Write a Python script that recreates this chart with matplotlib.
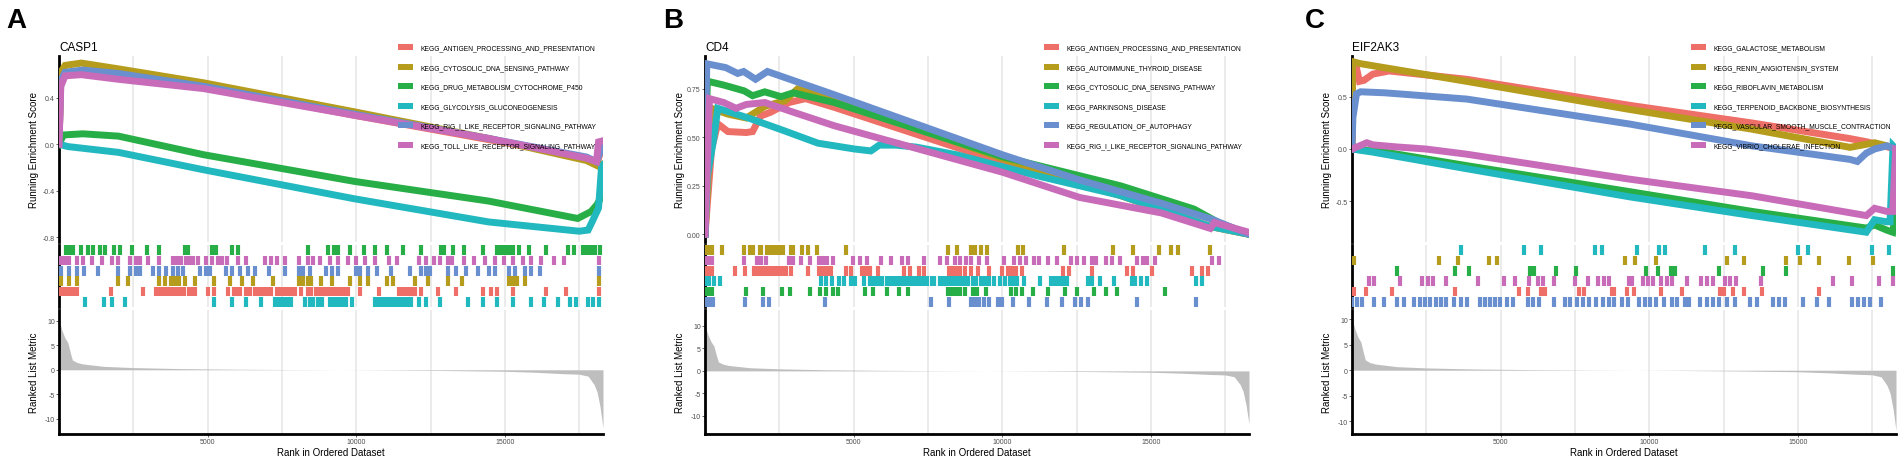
import matplotlib
matplotlib.use("Agg")
import matplotlib.pyplot as plt
from matplotlib.patches import Patch

plt.rcParams["font.family"] = ["Liberation Sans", "DejaVu Sans"]
plt.rcParams["axes.unicode_minus"] = False

# ----------------------------------------------------------------------
# DATA
# ----------------------------------------------------------------------
N_GENES = 18300
set_colors = ["#EE6F67", "#B59C1C", "#27AE47", "#22B8BF", "#6A8FCF", "#C86CBA"]

# ranked list metric (same shape in all three panels)
metric_rank = [0, 100, 200, 300, 380, 450, 600, 800, 1500, 2500, 4000, 6000, 8000,
               9500, 11000, 13000, 15000, 16000, 17000, 17500, 17800, 18000,
               18100, 18200, 18300]
metric_value = [10.2, 8.0, 6.5, 5.5, 3.5, 2.0, 1.5, 1.2, 0.7, 0.45, 0.25, 0.12, 0.04,
                0.0, -0.05, -0.15, -0.3, -0.5, -0.8, -0.9, -1.3, -3.0,
                -4.5, -7.5, -11.8]

# ---- panel A : CASP1 ----
a_gene = "CASP1"
a_sets = ["KEGG_ANTIGEN_PROCESSING_AND_PRESENTATION",
          "KEGG_CYTOSOLIC_DNA_SENSING_PATHWAY",
          "KEGG_DRUG_METABOLISM_CYTOCHROME_P450",
          "KEGG_GLYCOLYSIS_GLUCONEOGENESIS",
          "KEGG_RIG_I_LIKE_RECEPTOR_SIGNALING_PATHWAY",
          "KEGG_TOLL_LIKE_RECEPTOR_SIGNALING_PATHWAY"]
a_es_rank = [
    [0, 60, 300, 1500, 4860, 9930, 14450, 17000, 18100, 18300],
    [0, 60, 205, 750, 2000, 4860, 9930, 14450, 17740, 18150, 18300],
    [0, 150, 800, 2000, 4860, 9930, 14450, 17450, 17900, 18100, 18250, 18300],
    [0, 300, 2000, 4860, 9930, 14450, 17500, 17800, 17950, 18150, 18250, 18300],
    [0, 60, 200, 800, 2000, 4860, 9930, 14450, 17740, 18080, 18300],
    [0, 60, 205, 750, 2000, 4860, 9930, 14450, 17740, 18080, 18150, 18300],
]
a_es_score = [
    [0.0, 0.55, 0.62, 0.60, 0.50, 0.25, 0.04, -0.08, -0.16, 0.0],
    [0.0, 0.62, 0.68, 0.70, 0.65, 0.53, 0.28, 0.05, -0.14, -0.19, -0.17],
    [0.0, 0.08, 0.09, 0.07, -0.09, -0.32, -0.49, -0.64, -0.58, -0.52, -0.45, -0.24],
    [0.0, -0.02, -0.07, -0.22, -0.47, -0.67, -0.75, -0.74, -0.66, -0.55, -0.20, -0.18],
    [0.0, 0.55, 0.62, 0.64, 0.61, 0.50, 0.26, 0.05, -0.11, -0.15, 0.0],
    [0.0, 0.50, 0.59, 0.60, 0.56, 0.48, 0.25, 0.05, -0.12, -0.15, 0.02, 0.03],
]
a_hits = [
    [70, 210, 340, 480, 620, 1750, 2810, 3260, 3400, 3540, 3670, 3810, 3950, 4080,
     4220, 4380, 4450, 4590, 5000, 5210, 5690, 5890, 5960, 6100, 6300, 6440, 6580,
     6720, 6850, 6990, 7130, 7330, 7400, 7540, 7670, 7810, 7950, 8150, 8360, 8490,
     8630, 8770, 8900, 9040, 9180, 9310, 9450, 9590, 9730, 10140, 10750, 11440,
     11580, 11710, 11850, 11990, 12170, 12740, 13360, 14250, 14520, 14730, 15280,
     16370, 17060, 18150],
    [70, 340, 620, 1990, 2330, 3360, 3560, 3770, 3910, 4050, 4250, 4560, 5210, 5750,
     6170, 6510, 7190, 8080, 8220, 8360, 8490, 8800, 9180, 9800, 10140, 10410,
     11030, 11230, 11990, 12400, 13080, 13560, 15140, 15270, 15410, 15690, 18150],
    [230, 370, 480, 750, 960, 1140, 1370, 1550, 1850, 2050, 2470, 2950, 3360, 4250,
     4340, 5140, 5270, 5820, 6030, 8380, 9040, 9250, 9380, 9800, 10250, 10640,
     11030, 11580, 12190, 12840, 12950, 13250, 13630, 14250, 14730, 14870, 15000,
     15140, 15280, 15480, 15820, 16370, 17120, 17330, 17630, 17770, 17900, 18040,
     18200],
    [860, 1510, 1780, 2220, 5210, 5820, 6300, 6780, 7260, 7400, 7540, 7670, 7810,
     8290, 8430, 8560, 8700, 8840, 9110, 9250, 9380, 9520, 9660, 9860, 10620, 10750,
     10890, 11030, 11170, 11300, 11440, 11580, 11710, 11850, 12120, 12330, 12810,
     13770, 14250, 14730, 15280, 15890, 16300, 16780, 17190, 17400, 17810, 17950,
     18150],
    [70, 340, 620, 850, 1300, 1990, 2400, 2600, 2740, 3150, 3350, 3600, 3840, 4000,
     4180, 4730, 4930, 5070, 5620, 5820, 6100, 6370, 6580, 7060, 7600, 8080, 8220,
     8430, 8970, 9180, 9380, 10000, 10140, 10410, 10690, 11170, 11820, 12190,
     12330, 12470, 13080, 13360, 13700, 14110, 14450, 14660, 15140, 15340, 15690,
     15890, 16170, 18150],
    [70, 200, 340, 590, 820, 1100, 1440, 1780, 1990, 2400, 2600, 2740, 3010, 3360,
     3840, 3980, 4120, 4260, 4400, 4520, 4690, 4930, 5140, 5340, 5480, 5640, 6030,
     6300, 6920, 7130, 7330, 7600, 8080, 8360, 8560, 8770, 9110, 9380, 9730, 10000,
     10280, 10640, 11100, 11370, 12120, 12330, 12600, 12810, 13080, 13220, 13630,
     13970, 14320, 14660, 14960, 15280, 15620, 15890, 16230, 16650, 16990, 18150],
]
a_hit_rows = [4, 3, 0, 5, 2, 1]
a_ylim = (-0.843, 0.761)
a_yticks = [-0.8, -0.4, 0.0, 0.4]
a_yticklabels = ["-0.8", "-0.4", "0.0", "0.4"]
a_metric_ylim = (-13.1, 12.2)

# ---- panel B : CD4 ----
b_gene = "CD4"
b_sets = ["KEGG_ANTIGEN_PROCESSING_AND_PRESENTATION",
          "KEGG_AUTOIMMUNE_THYROID_DISEASE",
          "KEGG_CYTOSOLIC_DNA_SENSING_PATHWAY",
          "KEGG_PARKINSONS_DISEASE",
          "KEGG_REGULATION_OF_AUTOPHAGY",
          "KEGG_RIG_I_LIKE_RECEPTOR_SIGNALING_PATHWAY"]
b_es_rank = [
    [0, 220, 430, 770, 1390, 1600, 1870, 2210, 2830, 3380, 4350, 10010, 13980, 17000, 18300],
    [0, 220, 770, 1390, 2010, 2700, 3110, 4350, 10010, 13980, 17000, 18300],
    [0, 30, 80, 630, 1320, 1600, 2010, 2560, 2970, 4350, 10010, 13980, 16450, 17280, 18300],
    [0, 80, 290, 430, 1460, 2560, 3800, 5030, 5580, 5860, 6410, 7100, 8470, 11220,
     13980, 17000, 18300],
    [0, 20, 60, 700, 1100, 1300, 1700, 2100, 4350, 10010, 12600, 15350, 17000, 18300],
    [0, 150, 630, 1045, 1390, 2010, 2970, 4350, 10010, 12600, 15350, 17000, 17140, 18300],
]
b_es_score = [
    [0.0, 0.44, 0.57, 0.53, 0.525, 0.53, 0.61, 0.63, 0.68, 0.70, 0.655, 0.37, 0.20, 0.04, 0.0],
    [0.0, 0.65, 0.62, 0.60, 0.66, 0.69, 0.75, 0.70, 0.39, 0.20, 0.04, 0.0],
    [0.0, 0.50, 0.79, 0.77, 0.74, 0.715, 0.735, 0.71, 0.73, 0.68, 0.40, 0.25, 0.13, 0.06, 0.0],
    [0.0, 0.30, 0.49, 0.65, 0.60, 0.54, 0.47, 0.44, 0.43, 0.46, 0.46, 0.45, 0.41, 0.30,
     0.20, 0.04, 0.0],
    [0.0, 0.50, 0.88, 0.86, 0.83, 0.84, 0.80, 0.84, 0.72, 0.41, 0.28, 0.16, 0.08, 0.0],
    [0.0, 0.70, 0.68, 0.65, 0.67, 0.68, 0.63, 0.56, 0.32, 0.19, 0.11, 0.03, 0.06, 0.01],
]
b_hits = [
    [10, 120, 220, 1020, 1360, 1640, 1780, 1920, 2050, 2190, 2330, 2460, 2600, 2740,
     2880, 3450, 3820, 3970, 4100, 4240, 4760, 4900, 5280, 5420, 5560, 5830, 6680,
     6890, 7210, 7370, 8200, 8340, 8470, 8580, 8750, 8950, 9190, 9570, 9990, 10190,
     10330, 10470, 10670, 12050, 12260, 13010, 14180, 14390, 15050, 16380, 16730, 16930],
    [10, 120, 220, 560, 1320, 1530, 1620, 1840, 1900, 2090, 2150, 2280, 2350, 2490,
     2630, 2900, 2970, 3250, 3450, 3770, 4730, 8170, 8470, 8950, 9090, 9300, 9500,
     10540, 10700, 12080, 13740, 14390, 15280, 15690, 15900, 17000],
    [10, 120, 220, 1390, 1940, 2590, 2870, 3520, 3870, 4070, 4320, 4480, 5380, 5650,
     6110, 6520, 6820, 8170, 8310, 8450, 8580, 8750, 9020, 9160, 9440, 10290, 10470,
     10670, 11020, 11540, 12120, 12530, 13080, 13490, 13850, 15490],
    [10, 150, 290, 500, 3910, 4070, 4280, 4510, 4690, 4900, 5040, 5340, 5560, 5700,
     5830, 5970, 6110, 6250, 6390, 6520, 6660, 6800, 6940, 7070, 7210, 7350, 7480,
     7620, 7720, 7900, 8030, 8170, 8310, 8450, 8580, 8720, 8860, 9000, 9130, 9270,
     9410, 9550, 9710, 9920, 10100, 10260, 10360, 10510, 10720, 11270, 11640, 11780,
     11920, 12050, 12190, 12870, 13010, 13280, 13770, 14360, 14480, 14660, 14870,
     16520, 16730],
    [10, 150, 260, 1360, 1940, 2150, 4030, 7610, 8200, 8950, 9090, 9230, 9370, 9570,
     9850, 10000, 10370, 10910, 11500, 12020, 12460, 12640, 12870, 14530, 16520],
    [10, 120, 220, 1320, 1760, 1900, 2040, 2810, 2970, 3220, 3520, 3840, 3970, 4110,
     4310, 4970, 5200, 5450, 5930, 6270, 6620, 6820, 7370, 7900, 8130, 8400, 8580,
     8790, 8950, 9230, 9500, 10050, 10400, 10600, 10810, 11060, 11220, 11530, 11840,
     12320, 12530, 12760, 13010, 13150, 13490, 13700, 13970, 14530, 14730, 14870,
     15140, 17070, 17280],
]
b_hit_rows = [2, 0, 4, 3, 5, 1]
b_ylim = (-0.04, 0.92)
b_yticks = [0.0, 0.25, 0.5, 0.75]
b_yticklabels = ["0.00", "0.25", "0.50", "0.75"]
b_metric_ylim = (-14.0, 13.5)

# ---- panel C : EIF2AK3 ----
c_gene = "EIF2AK3"
c_sets = ["KEGG_GALACTOSE_METABOLISM",
          "KEGG_RENIN_ANGIOTENSIN_SYSTEM",
          "KEGG_RIBOFLAVIN_METABOLISM",
          "KEGG_TERPENOID_BACKBONE_BIOSYNTHESIS",
          "KEGG_VASCULAR_SMOOTH_MUSCLE_CONTRACTION",
          "KEGG_VIBRIO_CHOLERAE_INFECTION"]
c_es_rank = [
    [0, 20, 150, 250, 400, 700, 1250, 3860, 9340, 13460, 16750, 17300, 17580, 18300],
    [0, 20, 290, 3860, 9340, 13460, 16750, 17580, 18000, 18300],
    [0, 1110, 3860, 9340, 13460, 17300, 17580, 17990, 18190, 18290],
    [0, 700, 3860, 9340, 13460, 17300, 17580, 17990, 18100, 18200, 18300],
    [0, 30, 150, 290, 1110, 3860, 9340, 13460, 16750, 17000, 17300, 17580, 17990, 18300],
    [0, 500, 700, 1500, 2480, 3860, 9340, 13460, 17300, 17580, 17990, 18190, 18290],
]
c_es_score = [
    [0.0, 0.80, 0.78, 0.65, 0.66, 0.72, 0.75, 0.67, 0.42, 0.25, 0.10, 0.07, 0.05, 0.0],
    [0.0, 0.84, 0.82, 0.65, 0.38, 0.19, 0.016, 0.06, 0.03, 0.0],
    [0.0, -0.03, -0.16, -0.41, -0.60, -0.76, -0.73, -0.78, -0.80, -0.60],
    [0.0, -0.03, -0.19, -0.46, -0.64, -0.80, -0.68, -0.70, -0.70, 0.03, 0.0],
    [0.0, 0.30, 0.53, 0.55, 0.54, 0.48, 0.24, 0.03, -0.10, -0.12, -0.04, 0.0, 0.03, 0.0],
    [0.0, 0.06, 0.04, 0.02, 0.0, -0.05, -0.29, -0.45, -0.64, -0.57, -0.60, -0.60, 0.0],
]
c_hits = [
    [80, 470, 1360, 3480, 5610, 5910, 6370, 6500, 7630, 7790, 8730, 8820, 9250, 9480,
     10400, 11100, 12390, 12530, 12800, 13180, 13800, 15720],
    [80, 2920, 3550, 4610, 4880, 9180, 9510, 10240, 12610, 13180, 14600, 15080, 15720,
     16710, 17530],
    [1500, 3480, 3950, 5980, 6120, 6870, 7520, 9890, 10280, 10720, 10880, 12360, 13840,
     14600, 18190],
    [3680, 5780, 6370, 8180, 8410, 9590, 10340, 10520, 11880, 12880, 15000, 15340,
     17480, 18060],
    [10, 180, 330, 730, 1070, 1500, 1760, 2100, 2280, 2460, 2630, 2810, 2990, 3170,
     3440, 3680, 3880, 4310, 4470, 4650, 4820, 4990, 5230, 5410, 5910, 6090, 6300,
     6800, 7180, 7350, 7560, 7770, 7970, 8220, 8450, 8630, 8800, 9070, 9300, 9660,
     9850, 10030, 10240, 10510, 10760, 10920, 11200, 11330, 11700, 11950, 12160,
     12360, 12610, 12880, 13390, 13640, 14150, 14350, 14560, 15180, 15650, 16040,
     16820, 17030, 17230, 17440, 17810],
    [560, 730, 1630, 2370, 2550, 2730, 3170, 4240, 5120, 5500, 5940, 6260, 6430, 6780,
     7490, 7930, 8290, 8480, 8660, 9320, 9410, 9800, 9960, 10140, 10410, 10580, 10780,
     11260, 11740, 11950, 12160, 12540, 12730, 12910, 13760, 16180, 16820, 17740, 18190],
]
c_hit_rows = [4, 1, 2, 0, 5, 3]
c_ylim = (-0.894, 0.894)
c_yticks = [-0.5, 0.0, 0.5]
c_yticklabels = ["-0.5", "0.0", "0.5"]
c_metric_ylim = (-12.5, 11.8)

panels = [
    ("A", a_gene, a_sets, a_es_rank, a_es_score, a_hits, a_hit_rows, a_ylim,
     a_yticks, a_yticklabels, a_metric_ylim, 59, 6),
    ("B", b_gene, b_sets, b_es_rank, b_es_score, b_hits, b_hit_rows, b_ylim,
     b_yticks, b_yticklabels, b_metric_ylim, 705, 663),
    ("C", c_gene, c_sets, c_es_rank, c_es_score, c_hits, c_hit_rows, c_ylim,
     c_yticks, c_yticklabels, c_metric_ylim, 1352, 1305),
]

# ----------------------------------------------------------------------
# PLOT
# ----------------------------------------------------------------------
W, H = 1902, 460
fig = plt.figure(figsize=(W / 100, H / 100), dpi=100)

GRID_COL = "#EBEBEB"
TICK_COL = "#4D4D4D"
AX_W = 544


def px_axes(left, top, bottom):
    return fig.add_axes([left / W, 1 - bottom / H, AX_W / W, (bottom - top) / H])


def style(ax):
    for s in ("top", "right", "bottom"):
        ax.spines[s].set_visible(False)
    ax.spines["left"].set_linewidth(2.0)
    ax.spines["left"].set_color("black")
    ax.set_xlim(0, N_GENES)
    ax.set_xticks([5000, 10000, 15000])
    ax.set_xticks([2500, 7500, 12500, 17500], minor=True)
    ax.grid(axis="x", which="both", color=GRID_COL, lw=1.4, zorder=0)
    ax.set_axisbelow(True)
    ax.tick_params(axis="y", labelsize=5, colors=TICK_COL, length=2, width=0.6,
                   pad=1)
    ax.tick_params(axis="x", which="both", length=0, labelbottom=False)


for (letter, gene, sets, es_rank, es_score, hits, hit_rows, ylim, yticks,
     yticklabels, mylim, left, letter_x) in panels:

    # running enrichment score
    ax1 = px_axes(left, 57, 243)
    style(ax1)
    for i in range(6):
        ax1.plot(es_rank[i], es_score[i], color=set_colors[i], lw=5.0,
                 solid_joinstyle="miter", zorder=3)
    ax1.set_ylim(*ylim)
    ax1.set_yticks(yticks)
    ax1.set_yticklabels(yticklabels)
    ax1.set_ylabel("Running Enrichment Score", fontsize=7)
    ax1.yaxis.set_label_coords(-0.036, 0.5)
    ax1.set_title(gene, loc="left", fontsize=8.5, pad=4)

    handles = [Patch(facecolor=set_colors[i], edgecolor="none") for i in range(6)]
    ax1.legend(handles, sets, loc="upper left",
               bbox_to_anchor=(339 / AX_W, 1 + 12 / 186), frameon=False,
               fontsize=4.85, handlelength=2.3, handleheight=1.05,
               handletextpad=1.0, labelspacing=1.8, borderpad=0,
               borderaxespad=0)

    # gene hits
    ax2 = px_axes(left, 246, 308)
    style(ax2)
    for i in range(6):
        r = hit_rows[i]
        ax2.vlines(hits[i], 6 - r - 0.97, 6 - r - 0.03, color=set_colors[i],
                   lw=3.0, zorder=3)
    ax2.set_ylim(0, 6)
    ax2.set_yticks([])

    # ranked list metric
    ax3 = px_axes(left, 311, 435)
    style(ax3)
    ax3.spines["bottom"].set_visible(True)
    ax3.spines["bottom"].set_linewidth(2.0)
    ax3.spines["bottom"].set_color("black")
    ax3.fill_between(metric_rank, 0, metric_value, color="#BEBEBE", lw=0, zorder=2)
    ax3.set_ylim(*mylim)
    ax3.set_yticks([-10, -5, 0, 5, 10])
    ax3.set_yticklabels(["-10", "-5", "0", "5", "10"])
    ax3.tick_params(axis="x", which="major", length=2, width=0.6, colors=TICK_COL,
                    labelbottom=True, labelsize=5, pad=1)
    ax3.set_ylabel("Ranked List Metric", fontsize=7)
    ax3.yaxis.set_label_coords(-0.036, 0.5)
    ax3.set_xlabel("Rank in Ordered Dataset", fontsize=7, labelpad=1)

    fig.text(letter_x / W, 1 - 8 / H, letter, fontsize=20, fontweight="bold",
             ha="left", va="top")

fig.savefig("out.png", dpi=100)
